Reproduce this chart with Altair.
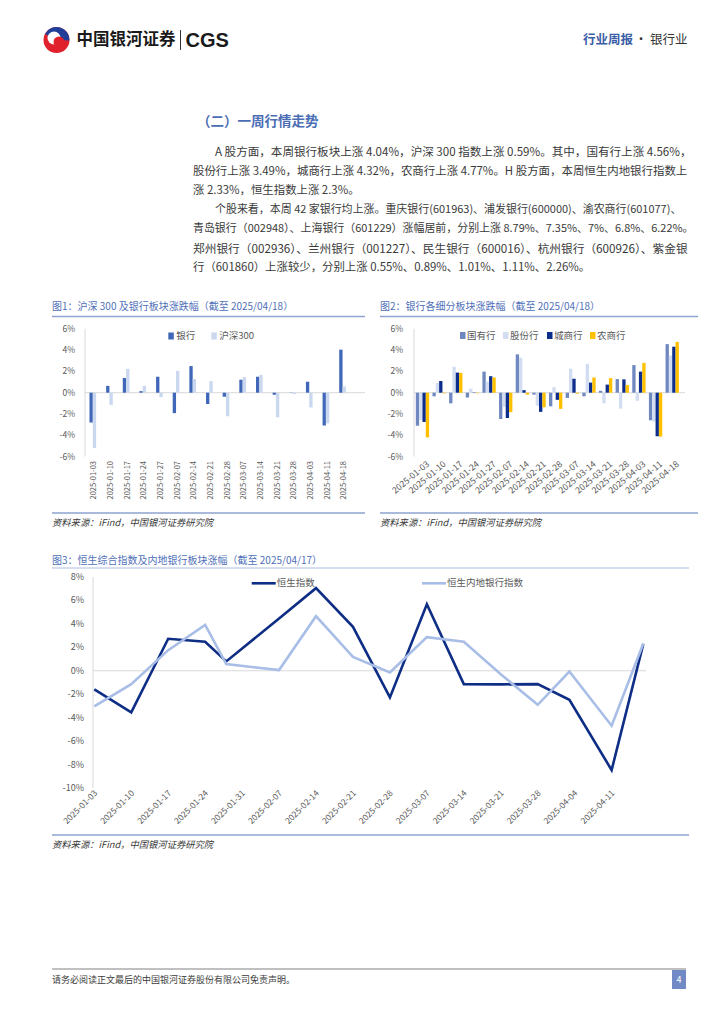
import altair as alt
import pandas as pd

FONT = "Noto Sans CJK SC"

# ---------------- text content ----------------
HEADER_LEFT = "中国银河证券"
HEADER_BRAND = "CGS"
HEADER_RIGHT_BLUE = "行业周报"
HEADER_DOT = "·"
HEADER_RIGHT_DARK = "银行业"
SECTION_TITLE = "（二）一周行情走势"
PARA_LINES = [
    "A 股方面，本周银行板块上涨 4.04%，沪深 300 指数上涨 0.59%。其中，国有行上涨 4.56%，",
    "股份行上涨 3.49%，城商行上涨 4.32%，农商行上涨 4.77%。H 股方面，本周恒生内地银行指数上",
    "涨 2.33%，恒生指数上涨 2.3%。",
    "个股来看，本周 42 家银行均上涨。重庆银行(601963)、浦发银行(600000)、渝农商行(601077)、",
    "青岛银行（002948）、上海银行（601229）涨幅居前，分别上涨 8.79%、7.35%、7%、6.8%、6.22%。",
    "郑州银行（002936）、兰州银行（001227）、民生银行（600016）、杭州银行（600926）、紫金银",
    "行（601860）上涨较少，分别上涨 0.55%、0.89%、1.01%、1.11%、2.26%。",
]
PARA_INDENT = [True, False, False, True, False, False, False]
PARA_SIZE = [11.57, 11.45, 11.4, 10.96, 10.94, 11.7, 11.4]
FIG1_TITLE = "图1：沪深 300 及银行板块涨跌幅（截至 2025/04/18）"
FIG2_TITLE = "图2：银行各细分板块涨跌幅（截至 2025/04/18）"
FIG3_TITLE = "图3：恒生综合指数及内地银行板块涨幅（截至 2025/04/17）"
SOURCE = "资料来源：iFind，中国银河证券研究院"
FOOTER = "请务必阅读正文最后的中国银河证券股份有限公司免责声明。"
PAGE_NO = "4"

# ---------------- chart data ----------------
WEEKS = ["2025-01-03", "2025-01-10", "2025-01-17", "2025-01-24", "2025-01-27",
         "2025-02-07", "2025-02-14", "2025-02-21", "2025-02-28", "2025-03-07",
         "2025-03-14", "2025-03-21", "2025-03-28", "2025-04-03", "2025-04-11",
         "2025-04-18"]

FIG1_SERIES = ["银行", "沪深300"]
FIG1_BANK = [-2.8, 0.64, 1.38, 0.15, 1.5, -1.92, 2.5, -1.06, -0.38, 1.22,
             1.5, -0.19, 0.02, 1.03, -3.08, 4.04]
FIG1_HS300 = [-5.2, -1.15, 2.24, 0.64, -0.42, 2.05, 1.28, 1.09, -2.21, 1.47,
              1.67, -2.31, -0.13, -1.38, -2.88, 0.59]
FIG1_COLORS = ["#4168b8", "#c9d7ef"]

FIG2_SERIES = ["国有行", "股份行", "城商行", "农商行"]
FIG2_STATE = [-3.1, -0.34, -1.0, -0.45, 1.98, -2.47, 3.6, -0.18, -1.28, -0.49,
              -0.34, 0.18, 1.28, 2.59, -2.59, 4.56]
FIG2_JOINT = [-2.55, 0.91, 2.44, 0.38, 1.04, -1.34, 3.29, -1.22, 0.52, 2.26,
              2.71, -1.0, -1.49, -0.76, -2.71, 3.49]
FIG2_CITY = [-2.75, 1.1, 1.89, 0.03, 1.55, -2.38, 0.24, -1.8, -0.67, 1.31,
             0.95, 0.76, 1.25, 1.98, -4.09, 4.32]
FIG2_RURAL = [-4.2, -0.06, 1.86, -0.05, 1.43, -1.83, -0.18, -1.37, -1.52, -0.09,
              1.43, 1.37, 0.73, 2.8, -4.12, 4.77]
FIG2_COLORS = ["#7088c0", "#d2ddf1", "#0d2e8c", "#ffc000"]

HK_DATES = ["2025-01-03", "2025-01-10", "2025-01-17", "2025-01-24", "2025-01-28",
            "2025-02-07", "2025-02-14", "2025-02-21", "2025-02-28", "2025-03-07",
            "2025-03-14", "2025-03-21", "2025-03-28", "2025-04-03", "2025-04-11",
            "2025-04-17"]
HK_SERIES = ["恒生指数", "恒生内地银行指数"]
HSI = [-1.59, -3.55, 2.73, 2.47, 0.8, 4.46, 7.05, 3.75, -2.27, 5.68,
       -1.14, -1.16, -1.14, -2.47, -8.47, 2.3]
HSMBI = [-3.04, -1.14, 1.76, 3.92, 0.57, 0.06, 4.66, 1.19, -0.14, 2.87,
         2.47, -0.3, -2.9, -0.06, -4.69, 2.33]
HK_COLORS = ["#0e2d85", "#a8bee6"]
HK_TICKS = ["2025-01-03", "2025-01-10", "2025-01-17", "2025-01-24", "2025-01-31",
            "2025-02-07", "2025-02-14", "2025-02-21", "2025-02-28", "2025-03-07",
            "2025-03-14", "2025-03-21", "2025-03-28", "2025-04-04", "2025-04-11"]

PCT_TICKS_6 = [-6, -4, -2, 0, 2, 4, 6]
PCT_TICKS_3 = [-10, -8, -6, -4, -2, 0, 2, 4, 6, 8]

ONE = alt.Data(values=[{}])
TITLE_BLUE = "#4f6fb8"
RULE_BLUE = "#8ea3cf"
TEXT_DARK = "#3a3a3a"
AXIS_GREY = "#d9d9d9"
LABEL_GREY = "#595959"


def txt(s, x, y, size, color, weight="normal", align="left", font=FONT, italic=False):
    kw = dict(text=s, fontSize=size, color=color, fontWeight=weight, align=align,
              baseline="middle", font=font)
    if italic:
        kw["fontStyle"] = "italic"
    return alt.Chart(ONE).mark_text(**kw).encode(x=alt.value(x), y=alt.value(y))


def hline(x1, x2, y, color, width=1.0):
    return alt.Chart(ONE).mark_rule(color=color, strokeWidth=width).encode(
        x=alt.value(x1), x2=alt.value(x2), y=alt.value(y))


def vline(x, y1, y2, color, width=1.0):
    return alt.Chart(ONE).mark_rule(color=color, strokeWidth=width).encode(
        x=alt.value(x), y=alt.value(y1), y2=alt.value(y2))


def box(x1, x2, y1, y2, color):
    return alt.Chart(ONE).mark_rect(color=color).encode(
        x=alt.value(x1), x2=alt.value(x2), y=alt.value(y1), y2=alt.value(y2))


def arc(cx, cy, r, t1, t2, color):
    return alt.Chart(ONE).mark_arc(radius=r, theta=t1, theta2=t2,
                                   color=color).encode(x=alt.value(cx), y=alt.value(cy))


# ---------------- Row A: header + text ----------------
row_a_layers = [
    arc(48.5, 32, 13, 0, 6.2832, "#e0202a"),
    arc(48.5, 32, 13, 5.2, 7.9, "#1f3f99"),
    arc(46, 30, 6.5, 0, 6.2832, "#ffffff"),
    arc(51, 34, 5.5, 0, 6.2832, "#e0202a"),
    txt(HEADER_LEFT, 68.5, 32, 16.5, "#1a1a1a", weight="bold"),
    vline(172.5, 22, 42, "#333333", 1),
    txt(HEADER_BRAND, 177.5, 32.5, 20, "#1a1a1a", weight="bold", font="Liberation Sans"),
    txt(HEADER_RIGHT_BLUE, 575, 32, 12.5, "#3b5ea6", weight="bold"),
    txt(HEADER_DOT, 633, 32, 12.5, "#333333", align="center"),
    txt(HEADER_RIGHT_DARK, 642, 32, 12.5, "#333333"),
    txt(SECTION_TITLE, 189, 113.7, 13.5, "#4a6db4", weight="bold"),
    txt(FIG1_TITLE, 44, 298.7, 10, TITLE_BLUE),
    txt(FIG2_TITLE, 372, 298.7, 10, TITLE_BLUE),
    hline(44, 357, 308.5, RULE_BLUE, 1.5),
    hline(372, 690, 308.5, RULE_BLUE, 1.5),
]
for i, (line, ind, fs) in enumerate(zip(PARA_LINES, PARA_INDENT, PARA_SIZE)):
    row_a_layers.append(txt(line, 207 if ind else 185, 144.5 + 19.2 * i, fs, TEXT_DARK))
row_a = alt.layer(*row_a_layers).properties(width=708, height=321)

# ---------------- Row B: figures 1 and 2 in one view (shared band scale) ----------------
# one band slot per bar; figure 1 groups = 2 bars + 3 empty slots,
# figure 2 groups = 4 bars + 1 empty slot (both: 5 slots per week)
SLOT = 3.33
FIG1_FIRST_CENTER = 84.8      # px, centre of the first week group in fig 1
FIG2_FIRST_CENTER = 414.5     # px, centre of the first week group in fig 2
pad_slots = FIG1_FIRST_CENTER / SLOT - 1
n_pre = int(pad_slots)
p_outer = pad_slots - n_pre
n_mid = int(round((FIG2_FIRST_CENTER - FIG1_FIRST_CENTER) / SLOT)) - 81


def week_keys(fig, series, n_empty):
    keys = []
    for w in WEEKS:
        keys += [f"{fig}|{w}|{s}" for s in series]
        keys += [f"{fig}|{w}|empty{e}" for e in range(n_empty)]
    return keys


DOMAIN_B = ([f"pre{i}" for i in range(n_pre)] + week_keys(1, FIG1_SERIES, 3)
            + [f"mid{i}" for i in range(n_mid)] + week_keys(2, FIG2_SERIES, 1))
ROW_B_W = SLOT * (len(DOMAIN_B) + 2 * p_outer)
ROW_B_H = 131
xsb = alt.Scale(domain=DOMAIN_B, paddingInner=0, paddingOuter=p_outer, round=False)
ZERO_PX, PX_PER_PCT = 63.7, 10.65
ysb = alt.Scale(domain=[-(ROW_B_H - ZERO_PX) / PX_PER_PCT, ZERO_PX / PX_PER_PCT],
                nice=False, zero=False)


def bar_figure(fig, series, values, colors, center_idx, axis_x, zero_x2, ylab_x,
               lab_angle, lab_y, lab_dx, lab_size):
    layers = [
        alt.Chart(pd.DataFrame({"z": [0]})).mark_rule(color=AXIS_GREY, strokeWidth=1).encode(
            x=alt.value(axis_x), x2=alt.value(zero_x2),
            y=alt.Y("z:Q", scale=ysb, axis=None)),
        alt.Chart(pd.DataFrame({"lo": [PCT_TICKS_6[0]], "hi": [PCT_TICKS_6[-1]]})).mark_rule(
            color=AXIS_GREY, strokeWidth=1).encode(
            x=alt.value(axis_x), y=alt.Y("lo:Q", scale=ysb, axis=None), y2="hi:Q"),
    ]
    for s, vals, col in zip(series, values, colors):
        df = pd.DataFrame({"key": [f"{fig}|{w}|{s}" for w in WEEKS], "value": vals})
        layers.append(alt.Chart(df).mark_bar(color=col).encode(
            x=alt.X("key:N", scale=xsb, axis=None),
            y=alt.Y("value:Q", scale=ysb, axis=None),
        ))
    layers.append(alt.Chart(pd.DataFrame({
        "v": PCT_TICKS_6, "lab": [f"{v}%" for v in PCT_TICKS_6]})).mark_text(
        align="right", baseline="middle", fontSize=8.5, color=LABEL_GREY, font=FONT
    ).encode(x=alt.value(ylab_x), y=alt.Y("v:Q", scale=ysb, axis=None), text="lab:N"))
    layers.append(alt.Chart(pd.DataFrame({
        "key": [f"{fig}|{w}|{series[center_idx]}" for w in WEEKS], "lab": WEEKS})).mark_text(
        angle=lab_angle, align="right", baseline="middle", fontSize=lab_size,
        color=LABEL_GREY, font=FONT, dx=lab_dx
    ).encode(x=alt.X("key:N", scale=xsb, axis=None), y=alt.value(lab_y),
             text="lab:N"))
    return layers


layers_b = []
layers_b += bar_figure(1, FIG1_SERIES, [FIG1_BANK, FIG1_HS300], FIG1_COLORS, 1,
                       77, 357, 67, 270, 132, 0, 7.5)
layers_b += bar_figure(2, FIG2_SERIES, [FIG2_STATE, FIG2_JOINT, FIG2_CITY, FIG2_RURAL],
                       FIG2_COLORS, 2, 406, 677, 395, 320, 137, 5, 8.8)
for name, col, x0 in zip(FIG1_SERIES, FIG1_COLORS, [160.3, 203.3]):
    layers_b.append(box(x0, x0 + 5.5, 3.5, 10.5, col))
    layers_b.append(txt(name, x0 + 8, 7, 9.5, LABEL_GREY))
for name, col, x0 in zip(FIG2_SERIES, FIG2_COLORS, [452, 495, 539, 582]):
    layers_b.append(box(x0, x0 + 5.5, 3, 10, col))
    layers_b.append(txt(name, x0 + 7, 6.5, 9.5, LABEL_GREY))
row_b = alt.layer(*layers_b).properties(width=ROW_B_W, height=ROW_B_H)

# ---------------- Row C: sources + fig3 title ----------------
row_c = alt.layer(
    hline(44, 357, 53, RULE_BLUE, 1.5),
    hline(372, 690, 53, RULE_BLUE, 1.5),
    txt(SOURCE, 44, 63, 9.3, TEXT_DARK, italic=True),
    txt(SOURCE, 372, 63, 9.3, TEXT_DARK, italic=True),
    txt(FIG3_TITLE, 44, 101, 10, TITLE_BLUE),
    hline(44, 681, 108, "#c8d3ea", 1.5),
).properties(width=708, height=117)

# ---------------- Row D: figure 3 ----------------
ROW_D_W, ROW_D_H = 638, 211
t_first = int(pd.Timestamp(HK_DATES[0]).value // 10**6)
t_last = int(pd.Timestamp(HK_DATES[-1]).value // 10**6)
px_first, px_last = 86.3, 635.3
ms_per_px = (t_last - t_first) / (px_last - px_first)
dom3 = [int(t_first - px_first * ms_per_px), int(t_last + (ROW_D_W - px_last) * ms_per_px)]
xs3 = alt.Scale(type="utc", domain=dom3, nice=False)
ys3 = alt.Scale(domain=[-10, 8], nice=False, zero=False)

layers_d = [
    alt.Chart(pd.DataFrame({"z": [0]})).mark_rule(color=AXIS_GREY, strokeWidth=1).encode(
        x=alt.value(85), x2=alt.value(ROW_D_W), y=alt.Y("z:Q", scale=ys3, axis=None)),
    alt.Chart(pd.DataFrame({"lo": [PCT_TICKS_3[0]], "hi": [PCT_TICKS_3[-1]]})).mark_rule(
        color=AXIS_GREY, strokeWidth=1).encode(
        x=alt.value(85), y=alt.Y("lo:Q", scale=ys3, axis=None), y2="hi:Q"),
]
for vals, col in zip([HSI, HSMBI], HK_COLORS):
    df = pd.DataFrame({"date": HK_DATES, "value": vals})
    layers_d.append(alt.Chart(df).mark_line(color=col, strokeWidth=2.6).encode(
        x=alt.X("date:T", scale=xs3, axis=None),
        y=alt.Y("value:Q", scale=ys3, axis=None)))
layers_d.append(alt.Chart(pd.DataFrame({
    "v": PCT_TICKS_3, "lab": [f"{v}%" for v in PCT_TICKS_3]})).mark_text(
    align="right", baseline="middle", fontSize=9, color=LABEL_GREY, font=FONT).encode(
    x=alt.value(76), y=alt.Y("v:Q", scale=ys3, axis=None), text="lab:N"))
layers_d.append(alt.Chart(pd.DataFrame({"d": HK_TICKS, "lab": HK_TICKS})).mark_text(
    angle=315, align="right", baseline="middle", fontSize=8.5, color=LABEL_GREY,
    font=FONT, dx=2).encode(x=alt.X("d:T", scale=xs3, axis=None),
                            y=alt.value(ROW_D_H + 5), text="lab:N"))
for name, col, x0 in zip(HK_SERIES, HK_COLORS, [243.7, 414]):
    layers_d.append(alt.Chart(ONE).mark_rule(color=col, strokeWidth=2.6).encode(
        x=alt.value(x0), x2=alt.value(x0 + 24), y=alt.value(6.3)))
    layers_d.append(txt(name, x0 + 25, 6.3, 9.5, LABEL_GREY))
row_d = alt.layer(*layers_d).properties(width=ROW_D_W, height=ROW_D_H)

# ---------------- Row E: source + footer ----------------
row_e = alt.layer(
    hline(44, 681, 47, RULE_BLUE, 1.5),
    txt(SOURCE, 44, 57, 9.3, TEXT_DARK, italic=True),
    hline(44, 678, 181, "#808080", 1),
    txt(FOOTER, 44, 192, 9, TEXT_DARK),
    box(664, 678, 182, 201, "#7189c4"),
    txt(PAGE_NO, 671, 191.5, 9, "#ffffff", align="center"),
).properties(width=708, height=207)

chart = alt.vconcat(row_a, row_b, row_c, row_d, row_e, spacing=0,
                    bounds="flush").properties(padding=0).configure_view(strokeWidth=0)

chart.save("out.html", embed_options={"renderer": "svg", "actions": False})
